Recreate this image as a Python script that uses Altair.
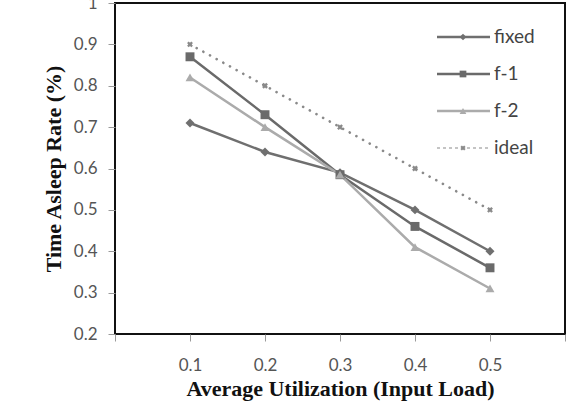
import altair as alt
import pandas as pd

# Utilization levels and measured asleep rates per policy
loads = [0.1, 0.2, 0.3, 0.4, 0.5]
fixed = [0.71, 0.64, 0.59, 0.50, 0.40]
f1 = [0.87, 0.73, 0.585, 0.46, 0.36]
f2 = [0.82, 0.70, 0.585, 0.41, 0.31]
ideal = [0.90, 0.80, 0.70, 0.60, 0.50]

series_names = ["fixed", "f-1", "f-2", "ideal"]
series_values = [fixed, f1, f2, ideal]
colors = ["#6f6f6f", "#6a6a6a", "#ababab", "#8a8a8a"]
shapes = ["diamond", "square", "triangle-up", "cross"]

rows = []
for name, vals in zip(series_names, series_values):
    for x, y in zip(loads, vals):
        rows.append({"load": x, "rate": y, "series": name})
df = pd.DataFrame(rows)

W, H = 450, 331
FONT = "Lato"
SERIF = "Liberation Serif"

color_scale = alt.Scale(domain=series_names, range=colors)
shape_scale = alt.Scale(domain=series_names, range=shapes)

x_enc = alt.X(
    "load:Q",
    scale=alt.Scale(domain=[0, 0.6], nice=False),
    axis=alt.Axis(
        values=[0, 0.1, 0.2, 0.3, 0.4, 0.5, 0.6],
        labelExpr="(datum.value < 0.05 || datum.value > 0.55) ? '' : format(datum.value, '.1f')",
        title="Average Utilization (Input Load)",
        grid=False,
        domain=False,
        tickColor="#9a9a9a",
        tickSize=7,
        labelFont=FONT,
        labelFontSize=17,
        labelColor="#555555",
        labelPadding=16,
        titleFont=SERIF,
        titleFontSize=22,
        titleFontWeight="bold",
        titleColor="#111111",
        titlePadding=5,
    ),
)
y_enc = alt.Y(
    "rate:Q",
    scale=alt.Scale(domain=[0.2, 1.0], nice=False),
    axis=alt.Axis(
        values=[0.2, 0.3, 0.4, 0.5, 0.6, 0.7, 0.8, 0.9, 1.0],
        labelExpr="datum.value > 0.95 ? '1' : format(datum.value, '.1f')",
        title="Time Asleep Rate (%)",
        grid=False,
        domain=False,
        tickColor="#9a9a9a",
        tickSize=7,
        labelFont=FONT,
        labelFontSize=17,
        labelColor="#555555",
        labelPadding=11,
        titleFont=SERIF,
        titleFontSize=22,
        titleFontWeight="bold",
        titleColor="#111111",
        titlePadding=8,
    ),
)
color_enc = alt.Color("series:N", scale=color_scale, legend=None)

base = alt.Chart(df)

solid_lines = base.transform_filter("datum.series != 'ideal'").mark_line(strokeWidth=2.5).encode(
    x=x_enc, y=y_enc, color=color_enc, detail="series:N",
)
ideal_line = base.transform_filter("datum.series == 'ideal'").mark_line(
    strokeWidth=2.6, strokeDash=[0.1, 7.5], strokeCap="round"
).encode(x=x_enc, y=y_enc, color=color_enc)
points = base.transform_filter("datum.series != 'ideal'").mark_point(filled=True, opacity=1).encode(
    x=x_enc, y=y_enc, color=color_enc,
    shape=alt.Shape("series:N", scale=shape_scale, legend=None),
    size=alt.Size("series:N", scale=alt.Scale(domain=series_names[:3], range=[80, 80, 120]), legend=None),
)
ideal_pts = base.transform_filter("datum.series == 'ideal'").mark_point(
    shape="cross", angle=45, filled=True, size=35, opacity=1
).encode(x=x_enc, y=y_enc, color=color_enc)

main = alt.layer(solid_lines, ideal_line, points, ideal_pts)

# Legend drawn inside the plot, top right (one row per series, in order)
leg = pd.DataFrame({"series": series_names, "row": list(range(len(series_names)))})
leg_y = alt.Y("row:Q", scale=alt.Scale(domain=[0, 3], range=[34, 145]), axis=None)
leg_solid = alt.Chart(leg).transform_filter("datum.series != 'ideal'").mark_rule(strokeWidth=2.5).encode(
    x=alt.value(322), x2=alt.value(375), y=leg_y, color=color_enc,
)
leg_dash = alt.Chart(leg).transform_filter("datum.series == 'ideal'").mark_rule(
    strokeWidth=1.2, strokeDash=[3, 3]
).encode(x=alt.value(322), x2=alt.value(375), y=leg_y, color=color_enc)
leg_pts = alt.Chart(leg).transform_filter("datum.series != 'ideal'").mark_point(filled=True, opacity=1, size=45).encode(
    x=alt.value(348), y=leg_y, color=color_enc,
    shape=alt.Shape("series:N", scale=shape_scale, legend=None),
)
leg_x = alt.Chart(leg).transform_filter("datum.series == 'ideal'").mark_point(
    shape="cross", angle=45, filled=True, size=28, opacity=1
).encode(x=alt.value(348), y=leg_y, color=color_enc)
leg_text = alt.Chart(leg).mark_text(
    align="left", baseline="middle", font=FONT, fontSize=19, color="#444444"
).encode(x=alt.value(379), y=leg_y, text="series:N")

legend_layer = alt.layer(leg_solid, leg_dash, leg_pts, leg_x, leg_text)

chart = (
    alt.layer(main, legend_layer)
    .resolve_scale(y="independent")
    .properties(
        width=W,
        height=H,
        padding={"left": 115, "top": 3, "right": 14, "bottom": 82},
        autosize=alt.AutoSizeParams(type="none"),
        background="white",
    )
    .configure_view(stroke="#111111", strokeWidth=2)
    .configure_axis(grid=False)
)

chart.save("out.html", embed_options={"renderer": "svg", "actions": False})
